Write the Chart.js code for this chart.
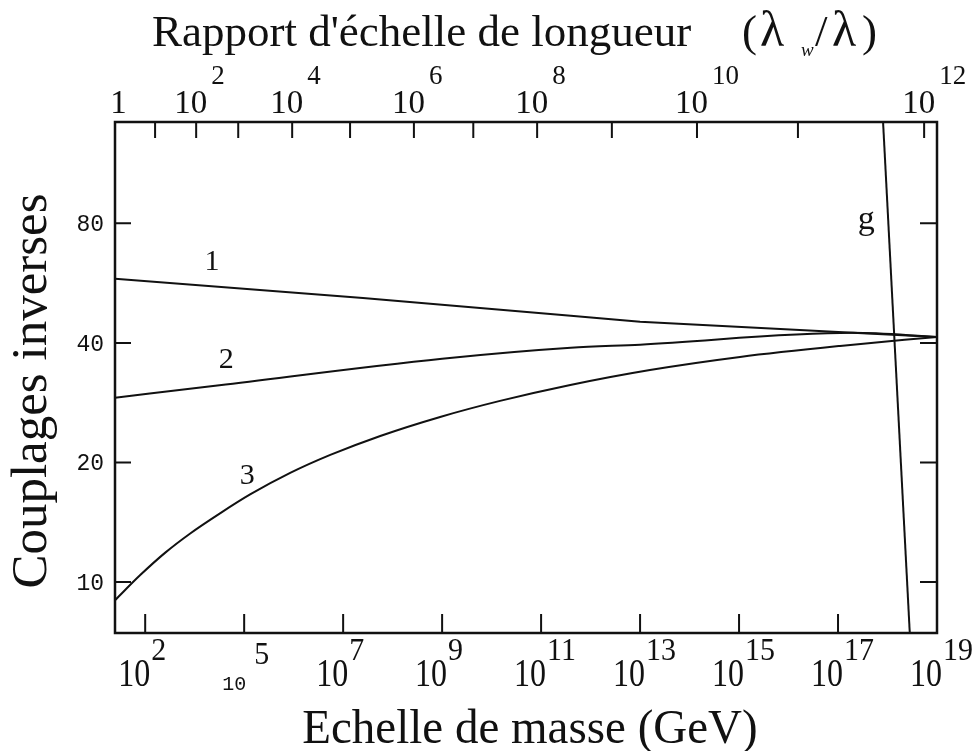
<!DOCTYPE html>
<html>
<head>
<meta charset="utf-8">
<script src="https://cdn.jsdelivr.net/npm/chart.js@4.4.1/dist/chart.umd.min.js"></script>
<style>
  html, body { margin: 0; background: #fff; }
</style>
</head>
<body>
<canvas id="chart" width="978" height="751"></canvas>
<script>
// x values are log10 of the mass scale (GeV), y values are inverse couplings
const curve1X = [2.39, 7.4, 11.6, 13.0, 17.3, 19];
const curve1Y = [58.0, 51.9, 46.8, 45.2, 42.4, 41.4];

const curve2X = [2.39, 4.5, 9.0, 11.6, 13.0, 17.3, 19];
const curve2Y = [29.1, 31.3, 36.5, 38.9, 39.6, 42.4, 41.4];

const curve3X = [2.39, 2.9, 3.4, 3.91, 4.52, 5.12, 5.93, 6.74, 7.75, 8.96, 10.17, 11.59, 13.2, 15.02, 17.04, 19];
const curve3Y = [9.0, 10.41, 11.84, 13.25, 14.91, 16.61, 18.82, 20.89, 23.32, 26.04, 28.58, 31.35, 34.19, 36.88, 39.31, 41.42];

const gLineX = [17.91, 18.45];
const gLineY = [144, 7.44];

// axis ticks
const yTicks = [10, 20, 40, 80];
const bottomTicks = [3, 5, 7, 9, 11, 13, 15, 17, 19];
const bottomExp = ['2', '5', '7', '9', '11', '13', '15', '17', '19'];
// top axis (length ratio) ticks, one per decade, placed in mass-scale units
const topTicks = [3.2, 4.03, 4.88, 5.97, 7.14, 8.43, 9.63, 10.92, 12.43, 14.15, 16.19, 18.74];
const topLabelAt = [2.46, 4.03, 5.97, 8.43, 10.92, 14.15, 18.74];
const topExp = ['', '2', '4', '6', '8', '10', '12'];

const curveLabels = [
  { text: '1', x: 4.35, y: 64.7 },
  { text: '2', x: 4.64, y: 36.6 },
  { text: '3', x: 5.06, y: 18.7 },
  { text: 'g', x: 17.57, y: 82 }
];

const SERIF = '"Liberation Serif", "Times New Roman", serif';
const MONO = '"Liberation Mono", "Courier New", monospace';

function pts(xs, ys) {
  return xs.map((x, i) => ({ x: x, y: ys[i] }));
}

function txt(ctx, s, x, y, size, align, sy, family, style) {
  ctx.save();
  ctx.font = (style ? style + ' ' : '') + size + 'px ' + (family || SERIF);
  ctx.textAlign = align || 'left';
  ctx.textBaseline = 'alphabetic';
  ctx.translate(x, y);
  ctx.scale(1, sy || 1);
  ctx.fillText(s, 0, 0);
  const w = ctx.measureText(s).width;
  ctx.restore();
  return w;
}

const frame = {
  id: 'frame',
  afterDatasetsDraw(chart) {
    const ctx = chart.ctx;
    const a = chart.chartArea;
    const xs = chart.scales.x;
    const ys = chart.scales.y;
    ctx.save();
    ctx.strokeStyle = '#111';
    ctx.fillStyle = '#111';

    // box
    ctx.lineWidth = 2.5;
    ctx.strokeRect(a.left, a.top, a.right - a.left, a.bottom - a.top);

    // tick marks (inside)
    ctx.lineWidth = 2;
    ctx.beginPath();
    yTicks.forEach(v => {
      const py = ys.getPixelForValue(v);
      ctx.moveTo(a.left, py); ctx.lineTo(a.left + 16, py);
      ctx.moveTo(a.right, py); ctx.lineTo(a.right - 17, py);
    });
    bottomTicks.forEach(v => {
      const px = xs.getPixelForValue(v);
      ctx.moveTo(px, a.bottom); ctx.lineTo(px, a.bottom - 19);
    });
    topTicks.forEach(v => {
      const px = xs.getPixelForValue(v);
      ctx.moveTo(px, a.top); ctx.lineTo(px, a.top + 16);
    });
    ctx.stroke();

    // y tick labels
    yTicks.forEach(v => {
      const py = ys.getPixelForValue(v);
      txt(ctx, String(v), 104, py + 8, 23, 'right', 1, MONO);
    });

    // bottom tick labels
    bottomTicks.forEach((v, i) => {
      const px = xs.getPixelForValue(v);
      if (bottomExp[i] === '5') {
        txt(ctx, '10', px + 2, 690, 20, 'right', 1, MONO);
        txt(ctx, '5', px + 10, 664, 30, 'left', 1.05);
      } else {
        txt(ctx, '10', px + 5, 686, 32, 'right', 1.25);
        txt(ctx, bottomExp[i], px + 6, 660, 30, 'left', 1.05);
      }
    });

    // top tick labels
    topLabelAt.forEach((v, i) => {
      const px = xs.getPixelForValue(v);
      if (topExp[i] === '') {
        txt(ctx, '1', px, 113, 33, 'center', 1.05);
      } else {
        txt(ctx, '10', px + 11, 113, 33, 'right', 1.05);
        txt(ctx, topExp[i], px + 15, 84, 27, 'left', 1);
      }
    });

    // curve labels
    curveLabels.forEach(l => {
      const px = xs.getPixelForValue(l.x);
      const py = ys.getPixelForValue(l.y);
      txt(ctx, l.text, px, py + 10, l.text === 'g' ? 34 : 30, 'center', 1);
    });

    // titles
    txt(ctx, "Rapport d'échelle de longueur", 152, 46, 45, 'left', 1);
    txt(ctx, '(', 742, 46, 45, 'left', 1);
    txt(ctx, 'λ', 760, 46, 50, 'left', 1);
    txt(ctx, 'w', 801, 56, 19, 'left', 1, SERIF, 'italic');
    txt(ctx, '/', 815, 46, 45, 'left', 1);
    txt(ctx, 'λ', 832, 46, 50, 'left', 1);
    txt(ctx, ')', 862, 46, 45, 'left', 1);

    txt(ctx, 'Echelle de masse (GeV)', 530, 743, 47, 'center', 1.05);

    ctx.save();
    ctx.translate(46, 391);
    ctx.rotate(-Math.PI / 2);
    txt(ctx, 'Couplages inverses', 0, 0, 51, 'center', 1);
    ctx.restore();

    ctx.restore();
  }
};

const line = { borderColor: '#111', borderWidth: 2, pointRadius: 0, fill: false };

new Chart(document.getElementById('chart'), {
  type: 'line',
  data: {
    datasets: [
      Object.assign({ label: '1', data: pts(curve1X, curve1Y), tension: 0 }, line),
      Object.assign({ label: '2', data: pts(curve2X, curve2Y), cubicInterpolationMode: 'monotone' }, line),
      Object.assign({ label: '3', data: pts(curve3X, curve3Y), cubicInterpolationMode: 'monotone' }, line),
      Object.assign({ label: 'g', data: pts(gLineX, gLineY), tension: 0 }, line)
    ]
  },
  options: {
    responsive: false,
    devicePixelRatio: 1,
    animation: false,
    layout: { padding: { left: 115, right: 41, top: 122, bottom: 118 } },
    plugins: { legend: { display: false }, tooltip: { enabled: false } },
    scales: {
      x: { type: 'linear', min: 2.39, max: 19, display: false },
      y: { type: 'logarithmic', min: 7.44, max: 144, display: false }
    }
  },
  plugins: [frame]
});
</script>
</body>
</html>
